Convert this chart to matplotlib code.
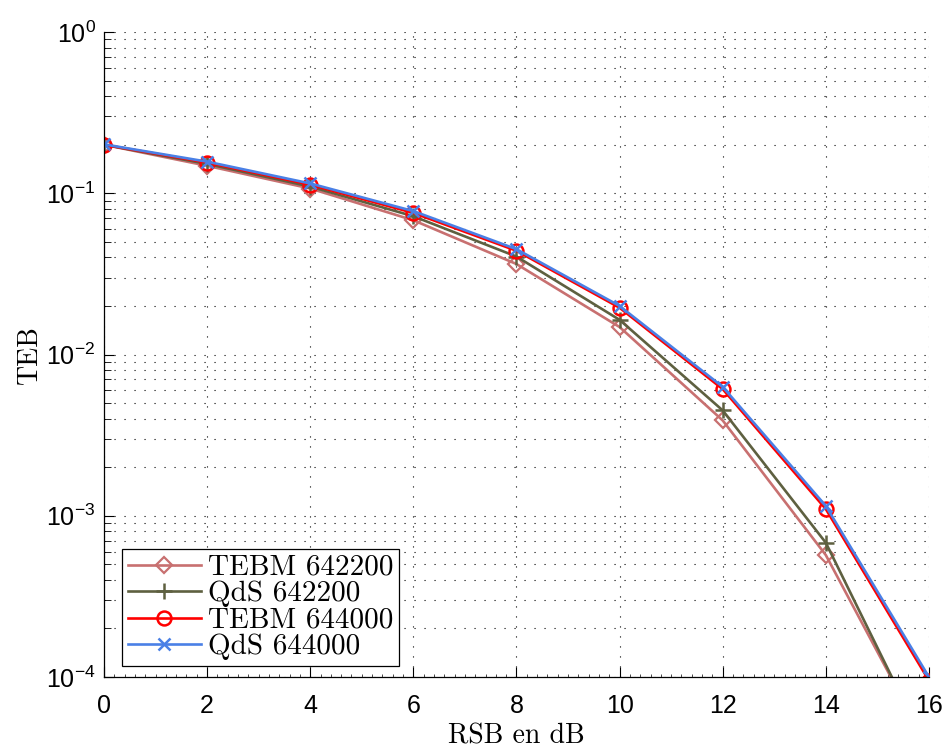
import numpy as np
import matplotlib
matplotlib.use("Agg")
import matplotlib.pyplot as plt
from matplotlib.ticker import LogLocator, MultipleLocator, NullFormatter

plt.rcParams['font.family'] = ['Liberation Sans', 'DejaVu Sans']
plt.rcParams['mathtext.fontset'] = 'custom'
plt.rcParams['mathtext.rm'] = 'Liberation Sans'
plt.rcParams['mathtext.it'] = 'Liberation Sans:italic'
plt.rcParams['mathtext.bf'] = 'Liberation Sans:bold'

snr = [0, 2, 4, 6, 8, 10, 12, 14, 16]
tebm_642200 = [0.200, 0.148, 0.107, 0.068, 0.0364, 0.0148, 0.0039, 0.00057, 0.000036]
qds_642200 = [0.200, 0.152, 0.110, 0.072, 0.0405, 0.0164, 0.0045, 0.00068, 0.000034]
tebm_644000 = [0.200, 0.155, 0.113, 0.0755, 0.0440, 0.0195, 0.0061, 0.00110, 0.000095]
qds_644000 = [0.201, 0.157, 0.115, 0.0775, 0.0450, 0.0200, 0.0063, 0.00115, 0.000100]
labels = ['TEBM 642200', 'QdS 642200', 'TEBM 644000', 'QdS 644000']
x_ticks = [0, 2, 4, 6, 8, 10, 12, 14, 16]

fig = plt.figure(figsize=(9.46, 7.49), dpi=100)
ax = fig.add_axes([0.1099, 0.0961, 0.8721, 0.8612])

lw = 1.9
ax.semilogy(snr, tebm_642200, color='#C87070', lw=lw, marker='D', ms=8.5,
            mfc='none', mew=1.6, label=labels[0])
ax.semilogy(snr, qds_642200, color='#5E6040', lw=lw, marker='+', ms=12,
            mew=1.8, label=labels[1])
ax.semilogy(snr, tebm_644000, color='#FF0000', lw=lw, marker='o', ms=10,
            mfc='none', mew=1.8, label=labels[2])
ax.semilogy(snr, qds_644000, color='#4A80E6', lw=lw, marker='x', ms=8,
            mew=1.8, label=labels[3])

ax.set_xlim(0, 16)
ax.set_ylim(1e-4, 1)
ax.set_xticks(x_ticks)
ax.xaxis.set_minor_locator(MultipleLocator(0.2))
ax.yaxis.set_major_locator(LogLocator(base=10, numticks=10))
ax.yaxis.set_minor_locator(LogLocator(base=10, subs=np.arange(2, 10), numticks=100))
ax.yaxis.set_minor_formatter(NullFormatter())

ax.spines['top'].set_visible(False)
ax.spines['right'].set_visible(False)
ax.tick_params(which='both', direction='in', top=False, right=False, labelsize=18)
ax.tick_params(which='major', length=7, width=0.8)
ax.tick_params(axis='y', which='minor', length=5, width=0.6)
ax.tick_params(axis='x', which='minor', length=2.5, width=0.5)
ax.tick_params(axis='x', which='major', pad=12)
ax.tick_params(axis='y', which='major', pad=6)

dots = (0, (1, 8))
ax.grid(True, which='major', axis='both', linestyle=dots, color='black', lw=0.8)
ax.grid(True, which='minor', axis='y', linestyle=dots, color='black', lw=0.8)
for s in ax.spines.values():
    s.set_linewidth(0.9)

ax.set_xlabel('RSB en dB', fontfamily='cmr10', fontsize=20, labelpad=4)
ax.set_ylabel('TEB', fontfamily='cmr10', fontsize=20, labelpad=2)

leg = ax.legend(loc='lower left', bbox_to_anchor=(0.0218, 0.017),
                prop={'family': 'cmr10', 'size': 21},
                frameon=True, fancybox=False, edgecolor='black', framealpha=1,
                borderpad=0.2, labelspacing=0.0, handlelength=2.5,
                handletextpad=0.25, borderaxespad=0.0)
leg.get_frame().set_linewidth(0.9)

fig.savefig('out.png', dpi=100)
